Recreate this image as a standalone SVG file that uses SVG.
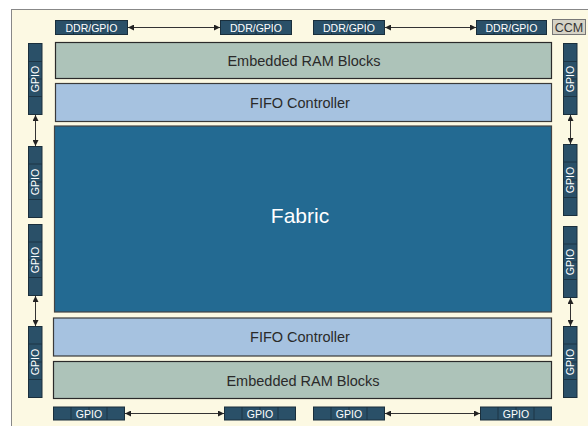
<svg xmlns="http://www.w3.org/2000/svg" width="588" height="426" viewBox="0 0 588 426">
<defs>
<marker id="ah" viewBox="0 0 6 6" refX="6" refY="3" markerWidth="6" markerHeight="6" orient="auto-start-reverse" markerUnits="userSpaceOnUse">
<path d="M0,0 L6,3 L0,6 Z" fill="#222"/>
</marker>
<style>
text{font-family:"Liberation Sans",Arial,sans-serif;}
.pin{fill:#2a5068;stroke:#1a2f3c;stroke-width:1;}
.cell{stroke:#1a2f3c;stroke-width:0.8;}
.pt{fill:#ffffff;font-size:10.5px;text-anchor:middle;}
.ram{fill:#adc3b9;stroke:#2a2a2a;stroke-width:1.2;}
.fifo{fill:#a6c2e0;stroke:#3a3a3a;stroke-width:1.2;}
.bt{fill:#2a2a2a;font-size:14.5px;text-anchor:middle;}
.conn{stroke:#333;stroke-width:1;fill:none;marker-start:url(#ah);marker-end:url(#ah);}
</style>
</defs>
<rect x="0" y="0" width="588" height="426" fill="#ffffff"/>
<rect x="11.5" y="9.5" width="580" height="420" fill="#fcf9e3" stroke="#888" stroke-width="1"/>

<g id="ram-top"><rect class="ram" x="55.5" y="42.5" width="496" height="36"/><text class="bt" x="304" y="66">Embedded RAM Blocks</text></g>
<g id="fifo-top"><rect class="fifo" x="55.5" y="83.5" width="496" height="38"/><text class="bt" x="300" y="107.5">FIFO Controller</text></g>
<g id="fabric"><rect x="54.5" y="126" width="497" height="186" fill="#236a92" stroke="#444" stroke-width="1.2"/><text x="300" y="223" fill="#ffffff" font-size="21" text-anchor="middle">Fabric</text></g>
<g id="fifo-bottom"><rect class="fifo" x="53.5" y="318" width="498" height="38"/><text class="bt" x="300" y="342">FIFO Controller</text></g>
<g id="ram-bottom"><rect class="ram" x="53.5" y="361.5" width="498" height="37"/><text class="bt" x="303" y="385.5">Embedded RAM Blocks</text></g>

<g id="ddr1"><rect class="pin" x="55.5" y="20.5" width="72" height="14"/><path class="cell" d="M73.5,20.5v14M91.5,20.5v14M109.5,20.5v14"/><text class="pt" x="91.5" y="31.5">DDR/GPIO</text></g>
<g id="ddr2"><rect class="pin" x="220.5" y="20.5" width="71" height="14"/><path class="cell" d="M238.5,20.5v14M256,20.5v14M273.5,20.5v14"/><text class="pt" x="256" y="31.5">DDR/GPIO</text></g>
<g id="ddr3"><rect class="pin" x="313.5" y="20.5" width="71" height="14"/><path class="cell" d="M331.5,20.5v14M349,20.5v14M366.5,20.5v14"/><text class="pt" x="349" y="31.5">DDR/GPIO</text></g>
<g id="ddr4"><rect class="pin" x="476.5" y="20.5" width="70" height="14"/><path class="cell" d="M494,20.5v14M511.5,20.5v14M529,20.5v14"/><text class="pt" x="511.5" y="31.5">DDR/GPIO</text></g>
<g id="ccm"><rect x="552.5" y="19.5" width="33" height="15" fill="#d6d3c6" stroke="#777" stroke-width="1"/><text x="569" y="31.5" fill="#333" font-size="12.5" text-anchor="middle">CCM</text></g>

<g id="gpio-b1"><rect class="pin" x="53.5" y="407" width="71" height="13"/><path class="cell" d="M71,407v13M89,407v13M107,407v13"/><text class="pt" x="89" y="417.5">GPIO</text></g>
<g id="gpio-b2"><rect class="pin" x="224.5" y="407" width="71" height="13"/><path class="cell" d="M242,407v13M260,407v13M278,407v13"/><text class="pt" x="260" y="417.5">GPIO</text></g>
<g id="gpio-b3"><rect class="pin" x="313.5" y="407" width="71" height="13"/><path class="cell" d="M331,407v13M349,407v13M367,407v13"/><text class="pt" x="349" y="417.5">GPIO</text></g>
<g id="gpio-b4"><rect class="pin" x="480.5" y="407" width="71" height="13"/><path class="cell" d="M498,407v13M516,407v13M534,407v13"/><text class="pt" x="516" y="417.5">GPIO</text></g>

<g id="gpio-l1"><rect class="pin" x="28.5" y="43.5" width="13.5" height="71"/><path class="cell" d="M28.5,61.5h13.5M28.5,79h13.5M28.5,96.5h13.5"/><text class="pt" transform="translate(39,79) rotate(-90)">GPIO</text></g>
<g id="gpio-l2"><rect class="pin" x="28.5" y="146.5" width="13.5" height="71"/><path class="cell" d="M28.5,164h13.5M28.5,182h13.5M28.5,199.5h13.5"/><text class="pt" transform="translate(39,182) rotate(-90)">GPIO</text></g>
<g id="gpio-l3"><rect class="pin" x="28.5" y="224.5" width="13.5" height="71"/><path class="cell" d="M28.5,242h13.5M28.5,260h13.5M28.5,277.5h13.5"/><text class="pt" transform="translate(39,260) rotate(-90)">GPIO</text></g>
<g id="gpio-l4"><rect class="pin" x="28.5" y="326.5" width="13.5" height="71"/><path class="cell" d="M28.5,344h13.5M28.5,362h13.5M28.5,379.5h13.5"/><text class="pt" transform="translate(39,362) rotate(-90)">GPIO</text></g>

<g id="gpio-r1"><rect class="pin" x="563.5" y="43.5" width="13.5" height="71"/><path class="cell" d="M563.5,61.5h13.5M563.5,79h13.5M563.5,96.5h13.5"/><text class="pt" transform="translate(574,79) rotate(-90)">GPIO</text></g>
<g id="gpio-r2"><rect class="pin" x="563.5" y="144.5" width="13.5" height="71"/><path class="cell" d="M563.5,162h13.5M563.5,180h13.5M563.5,197.5h13.5"/><text class="pt" transform="translate(574,180) rotate(-90)">GPIO</text></g>
<g id="gpio-r3"><rect class="pin" x="563.5" y="226.5" width="13.5" height="71"/><path class="cell" d="M563.5,244h13.5M563.5,262h13.5M563.5,279.5h13.5"/><text class="pt" transform="translate(574,262) rotate(-90)">GPIO</text></g>
<g id="gpio-r4"><rect class="pin" x="563.5" y="326.5" width="13.5" height="71"/><path class="cell" d="M563.5,344h13.5M563.5,362h13.5M563.5,379.5h13.5"/><text class="pt" transform="translate(574,362) rotate(-90)">GPIO</text></g>

<g id="connectors">
<line class="conn" x1="128" y1="27.5" x2="220" y2="27.5"/>
<line class="conn" x1="385" y1="27.5" x2="476" y2="27.5"/>
<line class="conn" x1="125" y1="413.5" x2="224" y2="413.5"/>
<line class="conn" x1="385" y1="413.5" x2="480" y2="413.5"/>
<line class="conn" x1="35.5" y1="115" x2="35.5" y2="146"/>
<line class="conn" x1="35.5" y1="296" x2="35.5" y2="326"/>
<line class="conn" x1="570.5" y1="115" x2="570.5" y2="144"/>
<line class="conn" x1="570.5" y1="298" x2="570.5" y2="326"/>
</g>
</svg>
